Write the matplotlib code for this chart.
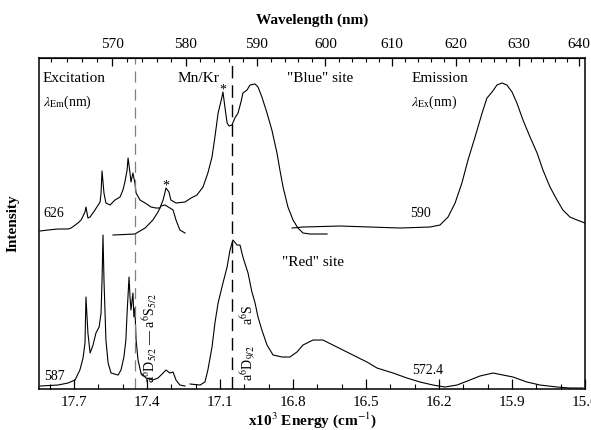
import numpy as np
import matplotlib
matplotlib.use("Agg")
import matplotlib.pyplot as plt

plt.rcParams['font.family'] = ['Liberation Serif', 'DejaVu Serif']
plt.rcParams['mathtext.fontset'] = 'stix'
plt.rcParams['lines.scale_dashes'] = False

# energies in 10^3 cm^-1, intensity in arbitrary units (traces offset)
exc626_e = [17.840, 17.807, 17.766, 17.725, 17.712, 17.684, 17.671, 17.655, 17.651, 17.643,
            17.634, 17.614, 17.593, 17.589, 17.585, 17.577, 17.569, 17.552, 17.532, 17.511,
            17.499, 17.491, 17.482, 17.478, 17.470, 17.466, 17.458, 17.450, 17.445, 17.429,
            17.408, 17.384, 17.363, 17.347, 17.334, 17.322, 17.310, 17.302, 17.281, 17.244,
            17.219, 17.195, 17.170, 17.150, 17.133, 17.121, 17.108, 17.092, 17.088, 17.080,
            17.071, 17.063, 17.051, 17.039, 17.026, 17.014, 17.006, 16.989, 16.977, 16.956,
            16.944, 16.928, 16.907, 16.887, 16.866, 16.854, 16.841, 16.821, 16.800, 16.780,
            16.759, 16.730, 16.702, 16.660]
exc626_i = [158, 159, 160, 160, 161, 166, 169, 177, 182, 171,
            172, 179, 187, 196, 218, 196, 186, 184, 189, 192,
            199, 207, 219, 231, 216, 207, 216, 206, 196, 189,
            186, 182, 181, 181, 189, 201, 197, 189, 186, 187,
            191, 194, 202, 216, 232, 252, 276, 292, 297, 282,
            266, 263, 264, 271, 276, 287, 296, 299, 304, 305,
            302, 292, 276, 259, 236, 219, 202, 182, 169, 161,
            156, 155, 155, 155]

mnkr_e = [17.540, 17.450, 17.408, 17.376, 17.355, 17.343, 17.326, 17.306, 17.293, 17.281,
          17.265, 17.244]
mnkr_i = [154, 155, 161, 169, 177, 183, 184, 181, 179, 169,
          159, 156]

em590_e = [16.804, 16.759, 16.607, 16.360, 16.237, 16.196, 16.163, 16.134, 16.106, 16.081,
           16.052, 16.023, 16.003, 15.982, 15.962, 15.941, 15.921, 15.900, 15.880, 15.855,
           15.826, 15.797, 15.773, 15.744, 15.715, 15.691, 15.662, 15.633, 15.600]
em590_i = [161, 162, 163, 161, 162, 164, 172, 186, 206, 229,
           252, 276, 291, 297, 304, 306, 304, 297, 286, 269,
           252, 236, 219, 202, 189, 179, 172, 169, 166]

exc587_e = [17.840, 17.766, 17.725, 17.696, 17.676, 17.663, 17.655, 17.651, 17.643, 17.634,
            17.622, 17.610, 17.597, 17.589, 17.585, 17.581, 17.577, 17.569, 17.560, 17.548,
            17.519, 17.507, 17.495, 17.487, 17.482, 17.474, 17.470, 17.466, 17.458, 17.454,
            17.450, 17.445, 17.437, 17.425, 17.404, 17.376, 17.355, 17.334, 17.322, 17.306,
            17.293, 17.281, 17.265, 17.244]
exc587_i = [3, 4, 6, 9, 19, 31, 46, 92, 56, 36,
            44, 56, 62, 76, 109, 154, 109, 49, 26, 16,
            14, 19, 32, 49, 76, 112, 92, 79, 96, 72,
            81, 49, 29, 16, 11, 9, 11, 16, 19, 16,
            17, 9, 4, 3]

em572_e = [17.223, 17.182, 17.162, 17.150, 17.133, 17.121, 17.108, 17.088, 17.071, 17.059,
           17.047, 17.030, 17.018, 17.006, 16.985, 16.969, 16.956, 16.944, 16.928, 16.907,
           16.882, 16.845, 16.813, 16.784, 16.759, 16.718, 16.677, 16.636, 16.595, 16.554,
           16.496, 16.455, 16.389, 16.332, 16.278, 16.225, 16.176, 16.126, 16.073, 16.032,
           15.978, 15.937, 15.896, 15.839, 15.785, 15.715, 15.662, 15.608]
em572_i = [5, 4, 7, 19, 42, 66, 86, 106, 122, 139,
           149, 144, 144, 132, 116, 97, 86, 72, 59, 44,
           34, 32, 32, 37, 44, 49, 49, 44, 39, 34,
           27, 21, 16, 11, 7, 4, 2, 4, 9, 13,
           16, 14, 12, 7, 4, 2, 1, 1]

mn_lines = [17.4515, 17.052]   # a6D5/2 and a6D9/2 -> a6S5/2


def e_to_nm(e):
    e = np.asarray(e, dtype=float)
    with np.errstate(divide='ignore'):
        return 1e4 / e


fig = plt.figure(figsize=(5.91, 4.30), dpi=100)
ax = fig.add_axes([0.066, 0.0953, 0.9239, 0.7698])

for e, i in [(exc626_e, exc626_i), (mnkr_e, mnkr_i), (em590_e, em590_i),
             (exc587_e, exc587_i), (em572_e, em572_i)]:
    ax.plot(e, i, color='k', lw=0.8)

ax.axvline(mn_lines[0], color='0.5', lw=0.9, ls=(0, (8, 5)))
ax.axvline(mn_lines[1], color='k', lw=1.0, ls=(0, (9, 5)))

ax.set_xlim(17.844, 15.6)
ax.set_ylim(0, 331)
ax.set_yticks([])
ax.set_xticks([17.7, 17.4, 17.1, 16.8, 16.5, 16.2, 15.9, 15.6])
ax.set_xticks(np.arange(15.6, 17.85, 0.1), minor=True)
ax.tick_params(axis='x', which='major', direction='in', length=7, width=0.9,
               labelsize=11, pad=5, top=False)
ax.tick_params(axis='x', which='minor', direction='in', length=3.5, width=0.8, top=False)
for s in ax.spines.values():
    s.set_linewidth(1.1)
ax.set_xlabel('x10$^3$ Energy (cm$^{-1}$)', fontsize=11, fontweight='bold', labelpad=1)
ax.set_ylabel('Intensity', fontsize=11, fontweight='bold', labelpad=14)

secax = ax.secondary_xaxis('top', functions=(e_to_nm, e_to_nm))
secax.set_xticks(np.arange(570, 641, 10))
secax.set_xticks(np.arange(562, 641, 2), minor=True)
secax.tick_params(which='major', direction='in', length=6, width=0.9, labelsize=11, pad=5)
secax.tick_params(which='minor', direction='in', length=3, width=0.8)
secax.set_xlabel('Wavelength (nm)', fontsize=11, fontweight='bold', labelpad=10)

fs = 11
ax.text(17.828, 311, 'Excitation', fontsize=fs, ha='left', va='center')
ax.text(17.828, 287, r'$\lambda_{\mathrm{Em}}$(nm)', fontsize=10, ha='left', va='center')
ax.text(17.188, 311, 'Mn/Kr', fontsize=fs, ha='center', va='center')
ax.text(16.825, 311, '"Blue" site', fontsize=fs, ha='left', va='center')
ax.text(16.315, 311, 'Emission', fontsize=fs, ha='left', va='center')
ax.text(16.315, 287, r'$\lambda_{\mathrm{Ex}}$(nm)', fontsize=10, ha='left', va='center')
ax.text(17.828, 176, '626', fontsize=10, ha='left', va='center')
ax.text(16.319, 176, '590', fontsize=10, ha='left', va='center')
ax.text(16.845, 127, '"Red" site', fontsize=fs, ha='left', va='center')
ax.text(17.823, 13, '587', fontsize=10, ha='left', va='center')
ax.text(16.245, 19, '572.4', fontsize=10, ha='center', va='center')
ax.text(17.322, 203, '*', fontsize=10, ha='center', va='center')
ax.text(17.090, 299, '*', fontsize=10, ha='center', va='center')
ax.text(17.390, 6, r'a$^6$D$_{5/2}$ — a$^6$S$_{5/2}$', fontsize=10, rotation=90,
        ha='center', va='bottom')
ax.text(16.987, 8, r'a$^6$D$_{9/2}$', fontsize=10, rotation=90, ha='center', va='bottom')
ax.text(16.987, 64, r'a$^6$S', fontsize=10, rotation=90, ha='center', va='bottom')

fig.savefig('out.png', dpi=100)
